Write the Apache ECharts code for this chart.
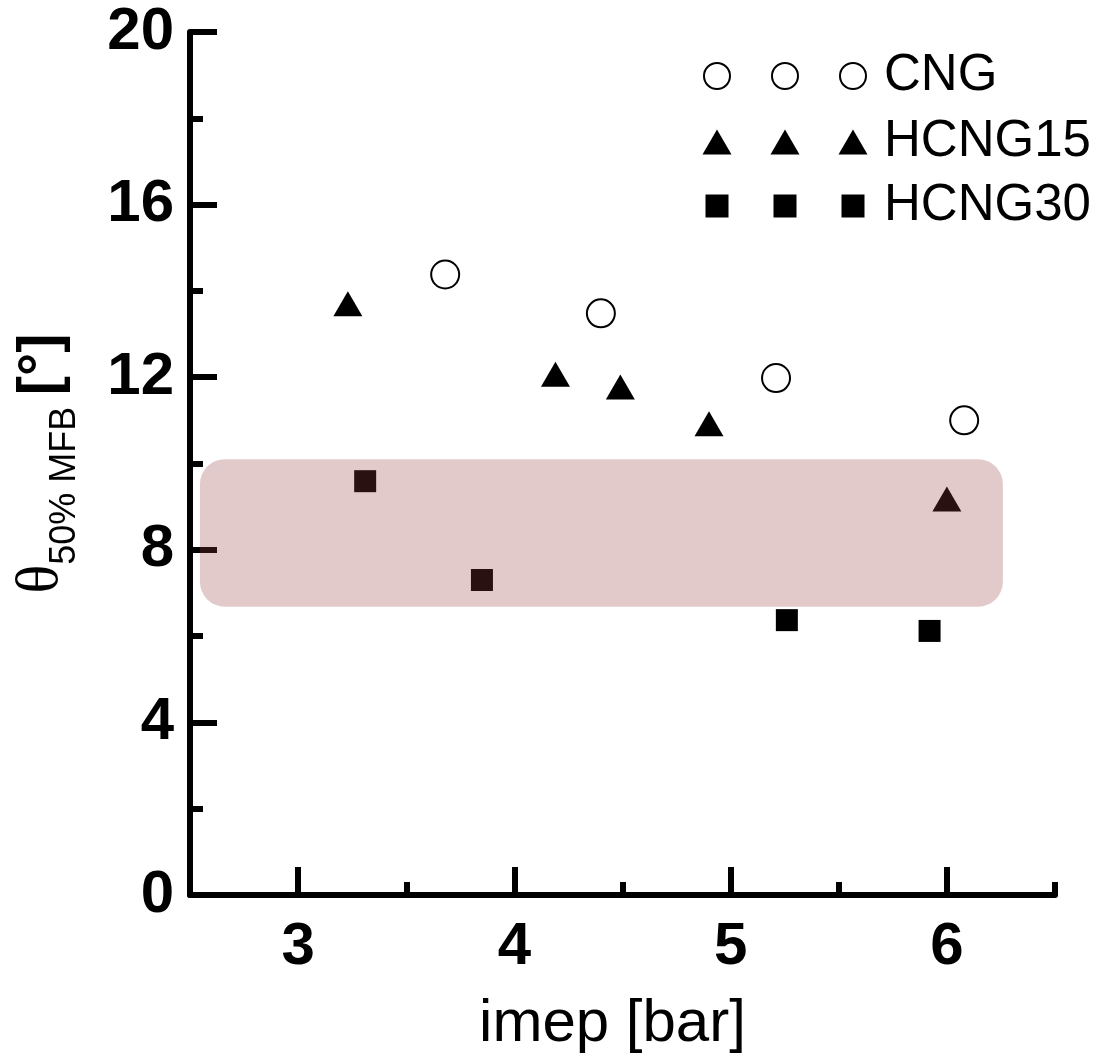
<!DOCTYPE html>
<html>
<head>
<meta charset="utf-8">
<title>θ50% MFB vs imep</title>
<script src="https://cdn.jsdelivr.net/npm/echarts@6/dist/echarts.min.js"></script>
<style>
  html, body { margin: 0; padding: 0; background: #fff; }
  #chart { width: 1105px; height: 1054px; }
</style>
</head>
<body>
<div id="chart"></div>
<script>
// data: [imep (bar), theta 50% MFB (deg)]
const cngData = [[3.68, 14.38], [4.40, 13.48], [5.21, 11.98], [6.08, 11.00]];
const hcng15Data = [[3.23, 13.70], [4.19, 12.07], [4.49, 11.77], [4.90, 10.92], [6.00, 9.18]];
const hcng30Data = [[3.31, 9.59], [3.85, 7.30], [5.26, 6.37], [5.92, 6.12]];

// shaded band (rounded box): x range and y range
const bandX = [2.546, 6.259];
const bandY = [6.68, 10.10];

// axis ticks
const xMajorTicks = [3, 4, 5, 6];
const xMinorTicks = [3.5, 4.5, 5.5, 6.5];

const legendNames = ['CNG', 'HCNG15', 'HCNG30'];

const FONT = "'Liberation Sans', Arial, sans-serif";

const chart = echarts.init(document.getElementById('chart'));

// legend drawn as three columns of symbols + label
const legendCols = [717, 785, 853];
const legendRows = [76, 142, 206];
const legendEls = [];
legendNames.forEach((name, r) => {
  const cy = legendRows[r];
  legendCols.forEach(cx => {
    if (r === 0) {
      legendEls.push({ type: 'circle', shape: { cx: cx, cy: cy, r: 13 }, style: { fill: '#fff', stroke: '#000', lineWidth: 2 } });
    } else if (r === 1) {
      legendEls.push({ type: 'polygon', shape: { points: [[cx, cy - 12.5], [cx + 14.5, cy + 12.5], [cx - 14.5, cy + 12.5]] }, style: { fill: '#000' } });
    } else {
      legendEls.push({ type: 'rect', shape: { x: cx - 11.5, y: cy - 11.5, width: 23, height: 23 }, style: { fill: '#000' } });
    }
  });
  legendEls.push({
    type: 'text', left: 884, top: cy - 30,
    style: { text: name, font: '51px ' + FONT, fill: '#000', textVerticalAlign: 'top', lineHeight: 60 }
  });
});

const option = {
  backgroundColor: '#fff',
  animation: false,
  grid: { left: 190, right: 50, top: 32, bottom: 159, containLabel: false, outerBoundsMode: 'none' },
  xAxis: [
    {
      type: 'value', min: 2.5, max: 6.5,
      name: 'imep [bar]', nameLocation: 'middle', nameGap: 99,
      nameTextStyle: { fontFamily: FONT, fontSize: 60, color: '#000', padding: [0, 20, 0, 0] },
      axisLine: { lineStyle: { color: '#000', width: 6 } },
      axisTick: { inside: true, length: 28, customValues: xMajorTicks, lineStyle: { color: '#000', width: 6 } },
      axisLabel: { customValues: xMajorTicks, margin: 22, fontFamily: FONT, fontSize: 60, fontWeight: 'bold', color: '#000' },
      splitLine: { show: false }
    },
    {
      type: 'value', min: 2.5, max: 6.5, position: 'bottom', offset: 0,
      axisLine: { show: false },
      axisTick: { inside: true, length: 13, customValues: xMinorTicks, lineStyle: { color: '#000', width: 6 } },
      axisLabel: { show: false },
      splitLine: { show: false }
    }
  ],
  yAxis: {
    type: 'value', min: 0, max: 20, interval: 4,
    name: '{t|θ}{s|50% MFB} {b|[°]}',
    nameLocation: 'middle', nameRotate: 90, nameGap: 107,
    nameTextStyle: {
      color: '#000',
      rich: {
        t: { fontFamily: "'Liberation Serif', 'Times New Roman', serif", fontSize: 60, lineHeight: 60, padding: [0, 0, 12, 0], verticalAlign: 'bottom', color: '#000' },
        s: { fontFamily: FONT, fontSize: 36, lineHeight: 36, verticalAlign: 'bottom', color: '#000' },
        b: { fontFamily: FONT, fontSize: 58, fontWeight: 'bold', lineHeight: 60, padding: [0, 0, 12, 8], verticalAlign: 'bottom', color: '#000' }
      }
    },
    axisLine: { show: true, lineStyle: { color: '#000', width: 6 } },
    axisTick: { show: true, inside: true, length: 27, lineStyle: { color: '#000', width: 6 } },
    minorTick: { show: true, splitNumber: 2, length: 13, lineStyle: { color: '#000', width: 6 } },
    axisLabel: { margin: 16, fontFamily: FONT, fontSize: 60, fontWeight: 'bold', color: '#000' },
    splitLine: { show: false },
    minorSplitLine: { show: false }
  },
  graphic: legendEls,
  series: [
    {
      name: 'CNG', type: 'scatter', data: cngData,
      symbol: 'circle', symbolSize: 28,
      itemStyle: { color: '#fff', borderColor: '#000', borderWidth: 2, opacity: 1 }
    },
    {
      name: 'HCNG15', type: 'scatter', data: hcng15Data,
      symbol: 'triangle', symbolSize: [29, 25],
      itemStyle: { color: '#000', opacity: 1 }
    },
    {
      name: 'HCNG30', type: 'scatter', data: hcng30Data,
      symbol: 'rect', symbolSize: 22,
      itemStyle: { color: '#000', opacity: 1 }
    },
    {
      name: 'band', type: 'custom', silent: true, z: 10,
      encode: { x: [0, 2], y: [1, 3] },
      data: [[bandX[0], bandY[0], bandX[1], bandY[1]]],
      renderItem: function (params, api) {
        const p0 = api.coord([api.value(0), api.value(3)]);
        const p1 = api.coord([api.value(2), api.value(1)]);
        return {
          type: 'rect',
          shape: { x: p0[0], y: p0[1], width: p1[0] - p0[0], height: p1[1] - p0[1], r: 25 },
          style: { fill: 'rgba(153, 62, 62, 0.275)' }
        };
      }
    }
  ]
};

chart.setOption(option);
</script>
</body>
</html>
